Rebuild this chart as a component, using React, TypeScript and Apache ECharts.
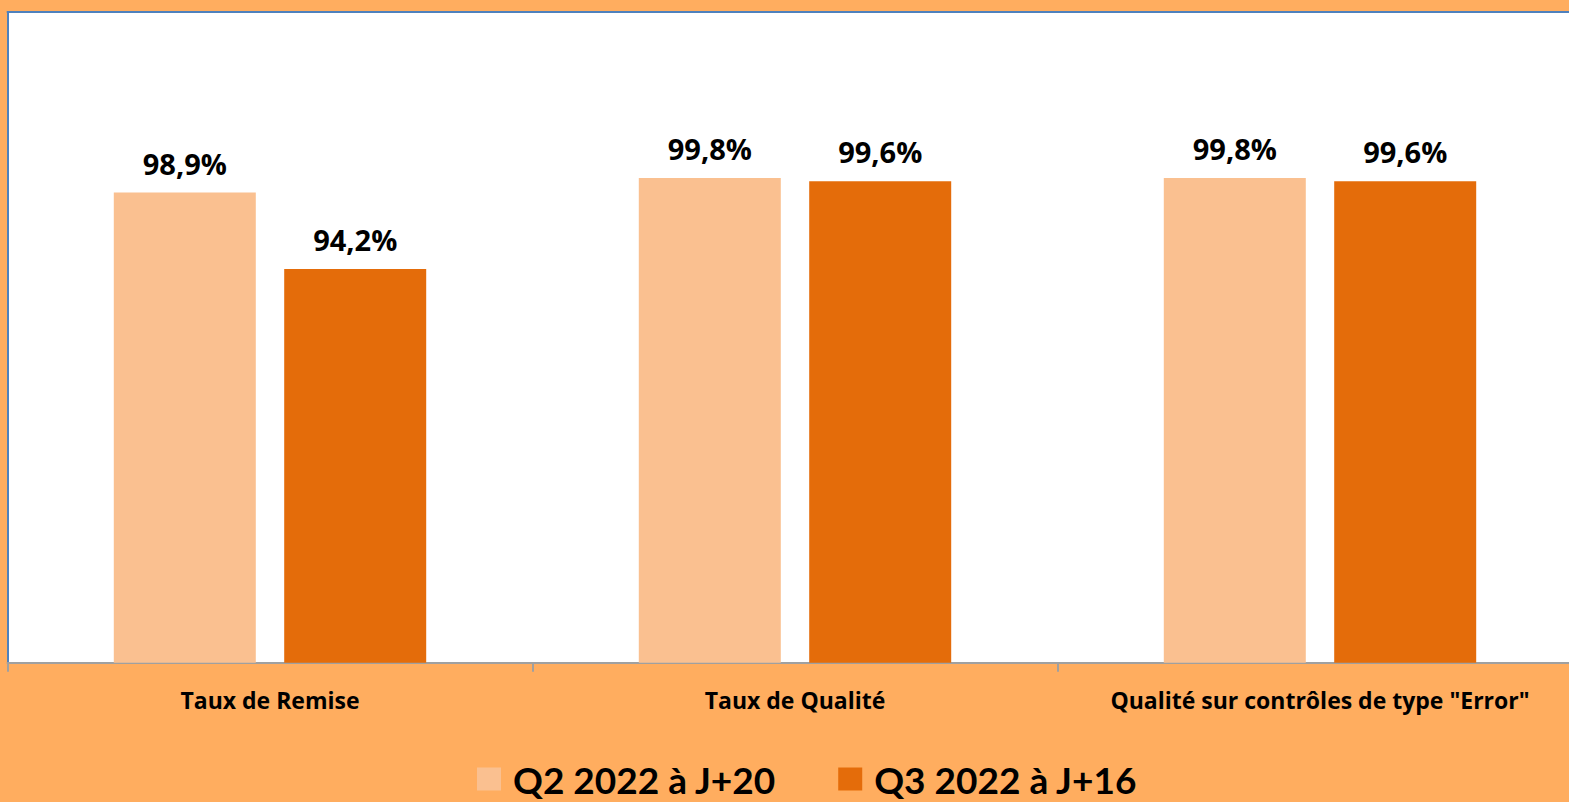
import React, { useEffect, useRef } from "react";
import * as echarts from "echarts";

const categories = ["Taux de Remise", "Taux de Qualité", 'Qualité sur contrôles de type "Error"'];
const seriesNames = ["Q2 2022 à J+20", "Q3 2022 à J+16"];
const q2Values = [98.9, 99.8, 99.8];
const q3Values = [94.2, 99.6, 99.6];

const FONT = "'Open Sans', 'DejaVu Sans', sans-serif";
const LEGEND_FONT = "Lato, 'Open Sans', sans-serif";
const fmt = (v: number) => v.toFixed(1).replace(".", ",") + "%";

export default function App() {
  const ref = useRef<HTMLDivElement>(null);
  useEffect(() => {
    if (!ref.current) return;
    const chart = echarts.init(ref.current, undefined, { renderer: "svg" });
    const label = {
      show: true,
      position: "top" as const,
      distance: 15,
      fontFamily: FONT,
      fontWeight: "bold" as const,
      fontSize: 29,
      color: "#000",
      formatter: (p: any) => fmt(p.value),
    };
    chart.setOption({
      animation: false,
      backgroundColor: "#FFAD5F",
      grid: {
        show: true,
        left: 7.5,
        top: 12,
        width: 1575,
        height: 650.7,
        backgroundColor: "#ffffff",
        borderWidth: 0,
        containLabel: false,
      },
      legend: {
        left: 477,
        top: 760,
        padding: 0,
        itemWidth: 24,
        itemHeight: 23,
        itemGap: 62,
        icon: "rect",
        data: seriesNames,
        textStyle: {
          fontFamily: LEGEND_FONT,
          fontWeight: "bold",
          fontSize: 37,
          lineHeight: 38,
          color: "#000",
          padding: [0, 0, 0, 7],
        },
      },
      xAxis: [
        {
          type: "category",
          data: categories,
          position: "bottom",
          axisLine: { show: true, lineStyle: { color: "#A0A0A0", width: 2 } },
          axisTick: { show: true, interval: 0, length: 9, lineStyle: { color: "#A0A0A0", width: 2 } },
          axisLabel: {
            interval: 0,
            margin: 26,
            fontFamily: FONT,
            fontWeight: "bold",
            fontSize: 23,
            color: "#000",
          },
          splitLine: { show: false },
        },
        {
          type: "category",
          data: categories,
          position: "top",
          axisLine: { show: true, lineStyle: { color: "#4F81BD", width: 2 } },
          axisTick: { show: false },
          axisLabel: { show: false },
          splitLine: { show: false },
        },
      ],
      yAxis: {
        type: "value",
        min: 70,
        max: 110,
        interval: 10,
        axisLine: { show: true, lineStyle: { color: "#4F81BD", width: 2 } },
        axisTick: { show: false },
        axisLabel: { show: false },
        splitLine: { show: false },
      },
      series: [
        {
          name: seriesNames[0],
          type: "bar",
          data: q2Values,
          barWidth: 142,
          barGap: "20%",
          itemStyle: { color: "#FAC090" },
          label,
        },
        {
          name: seriesNames[1],
          type: "bar",
          data: q3Values,
          barWidth: 142,
          barGap: "20%",
          itemStyle: { color: "#E46C0A" },
          label,
        },
      ],
    });
    return () => chart.dispose();
  }, []);
  return (
    <div
      style={{
        position: "fixed",
        left: 0,
        top: 0,
        width: 1569,
        height: 802,
        overflow: "hidden",
        background: "#FFAD5F",
      }}
    >
      <div ref={ref} style={{ width: 1600, height: 802 }} />
    </div>
  );
}
